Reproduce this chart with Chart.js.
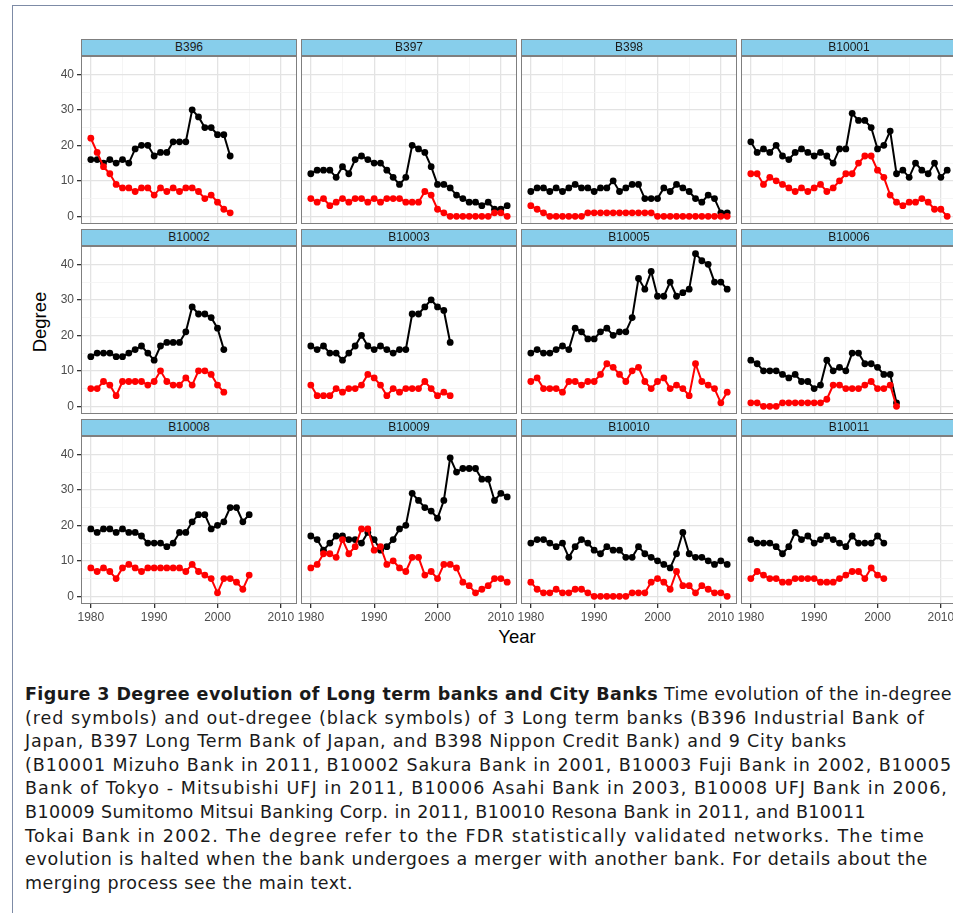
<!DOCTYPE html>
<html>
<head>
<meta charset="utf-8">
<script src="https://cdn.jsdelivr.net/npm/chart.js@4.4.1/dist/chart.umd.min.js"></script>
<style>
html, body { margin: 0; padding: 0; background: #fff; }
body { width: 953px; height: 913px; overflow: hidden; position: relative; font-family: "Liberation Sans", Arial, sans-serif; }
#frame { position: absolute; left: 12px; top: 5px; width: 980px; height: 1000px; border-left: 1px solid #7d8ba6; border-top: 1px solid #7d8ba6; }
canvas { position: absolute; z-index: 1; }
.strip { position: absolute; z-index: 2; height: 17px; background: #87ceeb; border: 1px solid #7f7f7f; box-sizing: border-box;
         font-size: 12px; line-height: 15px; text-align: center; color: #1a1a1a; }
.axtitle { position: absolute; font-size: 18.5px; color: #000; white-space: nowrap; }
#caption { position: absolute; left: 25px; top: 683px; font-family: "DejaVu Sans", sans-serif; font-size: 17.5px; line-height: 23.6px; color: #1a1a1a; }
#caption div { white-space: nowrap; }
</style>
</head>
<body>
<div id="frame"></div>
<div id="panels"></div>
<div class="axtitle" style="left:40px; top:322px; transform: translate(-50%,-50%) rotate(-90deg);">Degree</div>
<div class="axtitle" style="left:517px; top:637px; transform: translate(-50%,-50%);">Year</div>
<div id="caption">
<div><b>Figure 3 Degree evolution of Long term banks and City Banks</b> Time evolution of the in-degree</div>
<div>(red symbols) and out-dregee (black symbols) of 3 Long term banks (B396 Industrial Bank of</div>
<div>Japan, B397 Long Term Bank of Japan, and B398 Nippon Credit Bank) and 9 City banks</div>
<div>(B10001 Mizuho Bank in 2011, B10002 Sakura Bank in 2001, B10003 Fuji Bank in 2002, B10005</div>
<div>Bank of Tokyo - Mitsubishi UFJ in 2011, B10006 Asahi Bank in 2003, B10008 UFJ Bank in 2006,</div>
<div>B10009 Sumitomo Mitsui Banking Corp. in 2011, B10010 Resona Bank in 2011, and B10011</div>
<div>Tokai Bank in 2002. The degree refer to the FDR statistically validated networks. The time</div>
<div>evolution is halted when the bank undergoes a merger with another bank. For details about the</div>
<div>merging process see the main text.</div>
</div>
<script>
// years on the x axis
const years = [1980, 1981, 1982, 1983, 1984, 1985, 1986, 1987, 1988, 1989,
               1990, 1991, 1992, 1993, 1994, 1995, 1996, 1997, 1998, 1999,
               2000, 2001, 2002, 2003, 2004, 2005, 2006, 2007, 2008, 2009,
               2010, 2011];
const xTicks = [1980, 1990, 2000, 2010];
const yTicks = [0, 10, 20, 30, 40];

const banks = ['B396', 'B397', 'B398', 'B10001', 'B10002', 'B10003',
               'B10005', 'B10006', 'B10008', 'B10009', 'B10010', 'B10011'];

// out-degree (black) and in-degree (red), one value per year from 1980
const outB396 = [16,16,15,16,15,16,15,19,20,20,17,18,18,21,21,21,30,28,25,25,23,23,17];
const inB396  = [22,18,14,12,9,8,8,7,8,8,6,8,7,8,7,8,8,7,5,6,4,2,1];
const outB397 = [12,13,13,13,11,14,12,16,17,16,15,15,13,11,9,11,20,19,18,14,9,9,8,6,5,4,4,3,4,2,2,3];
const inB397  = [5,4,5,3,4,5,4,5,5,4,5,4,5,5,5,4,4,4,7,6,2,1,0,0,0,0,0,0,0,1,1,0];
const outB398 = [7,8,8,7,8,7,8,9,8,8,7,8,8,10,7,8,9,9,5,5,5,8,7,9,8,7,5,4,6,5,1,1];
const inB398  = [3,2,1,0,0,0,0,0,0,1,1,1,1,1,1,1,1,1,1,1,0,0,0,0,0,0,0,0,0,0,0,0];
const outB10001 = [21,18,19,18,20,17,16,18,19,18,17,18,17,15,19,19,29,27,27,25,19,20,24,12,13,11,15,13,12,15,11,13];
const inB10001  = [12,12,9,11,10,9,8,7,8,7,8,9,7,8,10,12,12,15,17,17,13,11,6,4,3,4,4,5,4,2,2,0];
const outB10002 = [14,15,15,15,14,14,15,16,17,15,13,17,18,18,18,21,28,26,26,25,22,16];
const inB10002  = [5,5,7,6,3,7,7,7,7,6,7,10,7,6,6,8,6,10,10,9,6,4];
const outB10003 = [17,16,17,15,15,13,15,17,20,17,16,17,16,15,16,16,26,26,28,30,28,27,18];
const inB10003  = [6,3,3,3,5,4,5,5,6,9,8,6,3,5,4,5,5,5,7,5,3,4,3];
const outB10005 = [15,16,15,15,16,17,16,22,21,19,19,21,22,20,21,21,25,36,33,38,31,31,35,31,32,33,43,41,40,35,35,33];
const inB10005  = [7,8,5,5,5,4,7,7,6,7,7,9,12,11,9,7,10,11,7,5,7,8,5,6,5,3,12,7,6,5,1,4];
const outB10006 = [13,12,10,10,10,9,8,9,7,7,5,6,13,10,11,10,15,15,12,12,11,9,9,1];
const inB10006  = [1,1,0,0,0,1,1,1,1,1,1,1,2,6,6,5,5,5,6,7,5,5,6,0];
const outB10008 = [19,18,19,19,18,19,18,18,17,15,15,15,14,15,18,18,21,23,23,19,20,21,25,25,21,23];
const inB10008  = [8,7,8,7,5,8,9,8,7,8,8,8,8,8,8,7,9,7,6,5,1,5,5,4,2,6];
const outB10009 = [17,16,13,15,17,17,16,16,15,18,16,13,14,16,19,20,29,27,25,24,22,27,39,35,36,36,36,33,33,27,29,28];
const inB10009  = [8,9,12,12,11,16,12,14,19,19,13,14,9,10,8,7,11,11,6,7,5,9,9,8,4,3,1,2,3,5,5,4];
const outB10010 = [15,16,16,15,14,15,11,14,16,15,13,12,14,13,13,11,11,14,12,11,10,9,8,12,18,12,11,11,10,9,10,9];
const inB10010  = [4,2,1,1,2,1,1,2,2,1,0,0,0,0,0,0,1,1,1,4,5,4,2,7,3,3,1,3,2,1,1,0];
const outB10011 = [16,15,15,15,14,12,14,18,16,17,15,16,17,16,15,14,17,15,15,15,17,15];
const inB10011  = [5,7,6,5,5,4,4,5,5,5,5,4,4,4,5,6,7,7,5,8,6,5];

const outSeries = [outB396, outB397, outB398, outB10001, outB10002, outB10003,
                   outB10005, outB10006, outB10008, outB10009, outB10010, outB10011];
const inSeries = [inB396, inB397, inB398, inB10001, inB10002, inB10003,
                  inB10005, inB10006, inB10008, inB10009, inB10010, inB10011];

// layout of the facet grid
const firstLeft = 81, colStep = 220, firstTop = 56, rowStep = 190;
const plotW = 216, plotH = 168, stripH = 17;
const yAxisW = 24, xAxisH = 22, margin = 16;

const panelBox = {
    id: 'panelBox',
    afterDraw(chart) {
        const a = chart.chartArea, ctx = chart.ctx;
        ctx.save();
        ctx.strokeStyle = '#7f7f7f';
        ctx.lineWidth = 1;
        ctx.strokeRect(a.left + 0.5, a.top + 0.5, a.right - a.left - 1, a.bottom - a.top - 1);
        ctx.restore();
    }
};

function toPoints(vals) {
    return vals.map((v, i) => ({ x: years[i], y: v }));
}

const holder = document.getElementById('panels');

banks.forEach(function(name, k) {
    const col = k % 4;
    const row = Math.floor(k / 4);
    const pl = firstLeft + col * colStep;
    const pt = firstTop + row * rowStep;
    const showY = col === 0;
    const showX = row === 2;

    const strip = document.createElement('div');
    strip.className = 'strip';
    strip.style.left = pl + 'px';
    strip.style.top = (pt - stripH) + 'px';
    strip.style.width = plotW + 'px';
    strip.textContent = name;
    holder.appendChild(strip);

    const cv = document.createElement('canvas');
    const w = plotW + 2 * margin + (showY ? yAxisW : 0);
    const h = plotH + 2 * margin + (showX ? xAxisH : 0);
    cv.width = w;
    cv.height = h;
    cv.style.width = w + 'px';
    cv.style.height = h + 'px';
    cv.style.left = (pl - margin - (showY ? yAxisW : 0)) + 'px';
    cv.style.top = (pt - margin) + 'px';
    holder.appendChild(cv);

    const gridColor = ctx => (ctx.tick && ctx.tick.value % 10 === 0) ? '#e3e3e3' : '#f3f3f3';
    const gridWidth = ctx => (ctx.tick && ctx.tick.value % 10 === 0) ? 1.3 : 0.8;
    const tickColor = ctx => (ctx.tick && ctx.tick.value % 10 === 0) ? '#333333' : 'rgba(0,0,0,0)';

    new Chart(cv, {
        type: 'line',
        data: {
            datasets: [
                {
                    label: 'in-degree',
                    data: toPoints(inSeries[k]),
                    borderColor: '#ff0000',
                    backgroundColor: '#ff0000',
                    borderWidth: 2,
                    pointRadius: 3.4,
                    pointBorderWidth: 0,
                    pointHoverRadius: 3.4
                },
                {
                    label: 'out-degree',
                    data: toPoints(outSeries[k]),
                    borderColor: '#000000',
                    backgroundColor: '#000000',
                    borderWidth: 2,
                    pointRadius: 3.4,
                    pointBorderWidth: 0,
                    pointHoverRadius: 3.4
                }
            ]
        },
        options: {
            responsive: false,
            animation: false,
            events: [],
            layout: { padding: margin },
            plugins: { legend: { display: false }, tooltip: { enabled: false } },
            scales: {
                x: {
                    type: 'linear',
                    min: 1978.45,
                    max: 2012.55,
                    border: { display: false },
                    grid: { color: gridColor, lineWidth: gridWidth, drawTicks: showX, tickLength: 4, tickColor: tickColor },
                    ticks: {
                        display: showX,
                        stepSize: 5,
                        includeBounds: false,
                        autoSkip: false,
                        maxRotation: 0,
                        padding: 2,
                        color: '#4d4d4d',
                        font: { family: '"Liberation Sans", Arial, sans-serif', size: 12 },
                        callback: v => xTicks.includes(v) ? String(v) : ''
                    },
                    afterFit: s => { s.height = showX ? xAxisH : 0; }
                },
                y: {
                    type: 'linear',
                    min: -2.15,
                    max: 45.15,
                    border: { display: false },
                    grid: { color: gridColor, lineWidth: gridWidth, drawTicks: showY, tickLength: 4, tickColor: tickColor },
                    ticks: {
                        display: showY,
                        stepSize: 5,
                        includeBounds: false,
                        autoSkip: false,
                        padding: 3,
                        color: '#4d4d4d',
                        font: { family: '"Liberation Sans", Arial, sans-serif', size: 12 },
                        callback: v => yTicks.includes(v) ? String(v) : ''
                    },
                    afterFit: s => { s.width = showY ? yAxisW : 0; }
                }
            }
        },
        plugins: [panelBox]
    });
});

// spread caption letters so each line ends where it does in the printed figure
const lineEnds = [952, 925, 847, 952, 948, 866, 925, 928, 353];
document.querySelectorAll('#caption div').forEach(function(line, i) {
    line.style.display = 'inline-block';
    const natural = line.getBoundingClientRect().width;
    const chars = line.textContent.length;
    const target = lineEnds[i] - 25;
    line.style.letterSpacing = ((target - natural) / chars) + 'px';
    line.style.display = 'block';
});
</script>
</body>
</html>
